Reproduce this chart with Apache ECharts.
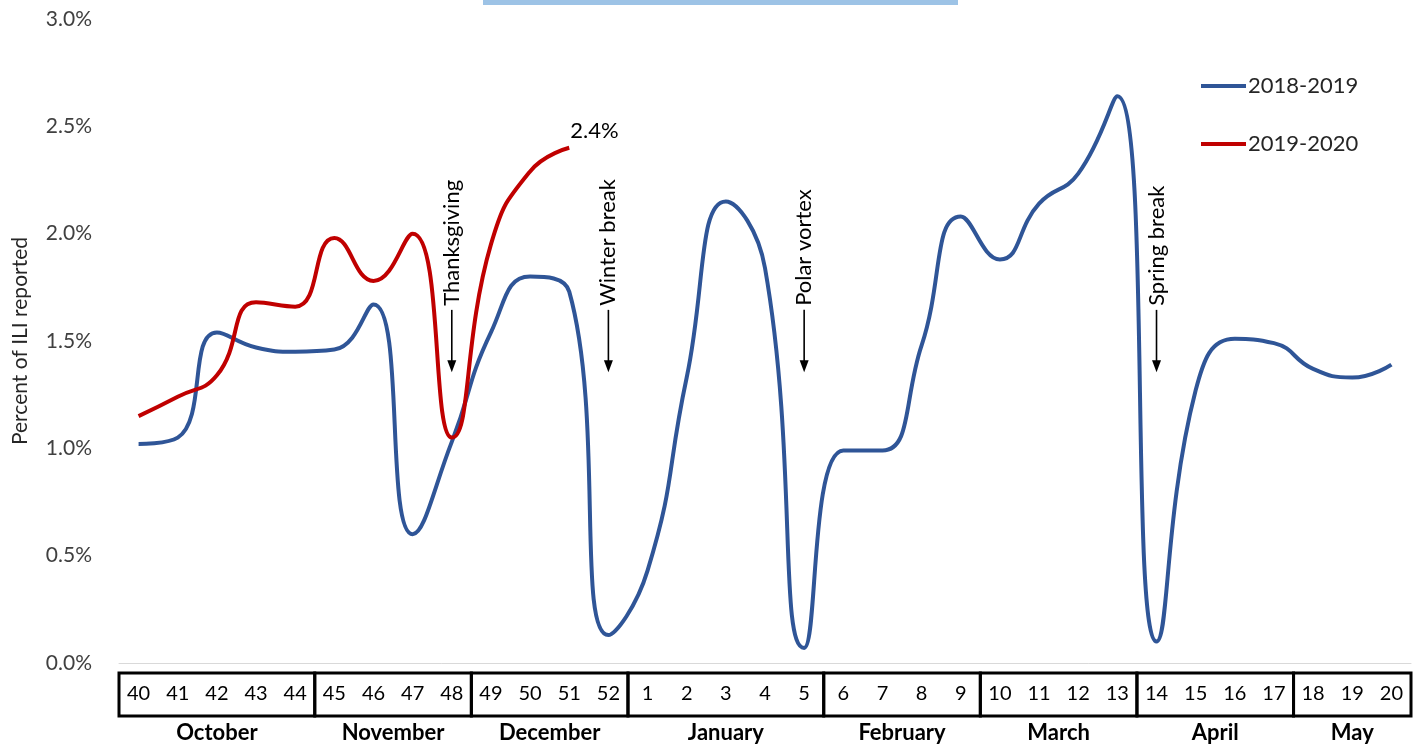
<!DOCTYPE html>
<html>
<head>
<meta charset="utf-8">
<script src="https://cdn.jsdelivr.net/npm/echarts@6/dist/echarts.min.js"></script>
<style>
html,body{margin:0;padding:0;background:#fff;}
#chart{width:1426px;height:746px;}
</style>
</head>
<body>
<div id="chart"></div>
<script>
// ---- data ----
const weeks = ['40','41','42','43','44','45','46','47','48','49','50','51','52',
  '1','2','3','4','5','6','7','8','9','10','11','12','13','14','15','16','17','18','19','20'];
const ili2018_2019 = [1.02,1.05,1.54,1.47,1.45,1.46,1.67,0.60,1.03,1.54,1.80,1.73,0.13,
  0.43,1.33,2.15,1.84,0.07,0.99,0.99,1.48,2.08,1.88,2.14,2.28,2.64,0.10,1.27,1.51,1.49,1.37,1.33,1.39];
const ili2019_2020 = [1.15,1.24,1.34,1.68,1.66,1.98,1.78,2.00,1.05,1.95,2.29,2.40];
const seriesNames = ['2018-2019','2019-2020'];
const months = ['October','November','December','January','February','March','April','May'];
const monthWeekCounts = [5,4,4,5,4,4,4,3];
const eventWeeks = ['48','52','5','14'];
const eventNames = ['Thanksgiving','Winter break','Polar vortex','Spring break'];
const yAxisTitle = 'Percent of ILI reported';

// ---- build ----
const FONT = 'Lato, "Open Sans", sans-serif';
const monthData = [];
let start = 0;
monthWeekCounts.forEach((n, i) => {
  monthData.push({ value: [start, start + n - 1], name: months[i] });
  start += n;
});
const eventData = eventWeeks.map((w, i) => ({ value: [weeks.indexOf(w)], name: eventNames[i] }));

const chart = echarts.init(document.getElementById('chart'), null, { renderer: 'canvas' });
const option = {
  backgroundColor: '#fff',
  animation: false,
  textStyle: { fontFamily: FONT },
  grid: { left: 119, right: 15, top: 19, bottom: 83, containLabel: false },
  legend: {
    orient: 'vertical', left: 1196, top: 70,
    itemWidth: 45, itemHeight: 4, itemGap: 36,
    icon: 'rect',
    data: seriesNames,
    textStyle: { fontFamily: FONT, fontSize: 22, color: '#262626', padding: [0, 0, 0, -3] }
  },
  xAxis: {
    type: 'category', data: weeks, boundaryGap: true,
    axisLine: { show: true, lineStyle: { color: '#D9D9D9', width: 1 } },
    axisTick: { show: false },
    axisLabel: { interval: 0, margin: 21, fontSize: 20, color: '#000', fontFamily: FONT },
    splitLine: { show: false }
  },
  yAxis: {
    type: 'value', min: 0, max: 3, interval: 0.5,
    name: yAxisTitle, nameLocation: 'middle', nameGap: 88, nameRotate: 90,
    nameTextStyle: { fontSize: 21, color: '#262626', fontFamily: FONT },
    axisLine: { show: false }, axisTick: { show: false },
    splitLine: { show: false },
    axisLabel: { margin: 27, fontSize: 21, color: '#404040', fontFamily: FONT,
      formatter: v => v.toFixed(1) + '%' }
  },
  graphic: [
    { type: 'rect', left: 483, top: 0, shape: { width: 475, height: 5 }, style: { fill: '#9DC3E6' }, silent: true }
  ],
  series: [
    {
      name: seriesNames[0], type: 'line', data: ili2018_2019, smooth: 0.5,
      showSymbol: false, symbol: 'none',
      lineStyle: { color: '#2F5597', width: 4 }, itemStyle: { color: '#2F5597' }, z: 3
    },
    {
      name: seriesNames[1], type: 'line', data: ili2019_2020, smooth: 0.5,
      showSymbol: false, symbol: 'none',
      lineStyle: { color: '#C00000', width: 4 }, itemStyle: { color: '#C00000' }, z: 4,
      endLabel: { show: true, formatter: p => p.value.toFixed(1) + '%', fontSize: 22,
        color: '#000', fontFamily: FONT, offset: [-4, -17], distance: 5 }
    },
    {
      type: 'custom', name: 'monthTable', data: monthData, encode: { x: [0, 1] },
      clip: false, silent: true, z: 5,
      renderItem: function (params, api) {
        const s = api.coord([api.value(0), 0]);
        const e = api.coord([api.value(1), 0]);
        const band = api.size([1, 0])[0];
        const x0 = s[0] - band / 2, x1 = e[0] + band / 2;
        const y0 = s[1] + 10, h = 43;
        return {
          type: 'group', children: [
            { type: 'rect', shape: { x: x0, y: y0, width: x1 - x0, height: h },
              style: { fill: 'none', stroke: '#000', lineWidth: 3 } },
            { type: 'text', x: (x0 + x1) / 2, y: y0 + h + 17,
              style: { text: months[params.dataIndex], fontFamily: FONT, fontSize: 22,
                fontWeight: 'bold', fill: '#000', align: 'center', verticalAlign: 'middle' } }
          ]
        };
      }
    },
    {
      type: 'custom', name: 'events', data: eventData, encode: { x: 0 },
      clip: false, silent: true, z: 6,
      renderItem: function (params, api) {
        const idx = api.value(0);
        const tip = api.coord([idx, 1.355]);
        const top = api.coord([idx, 1.645]);
        const x = tip[0];
        return {
          type: 'group', children: [
            { type: 'line', shape: { x1: x, y1: top[1], x2: x, y2: tip[1] - 10 },
              style: { stroke: '#000', lineWidth: 1.6 } },
            { type: 'polygon', shape: { points: [[x - 4.5, tip[1] - 12], [x + 4.5, tip[1] - 12], [x, tip[1]]] },
              style: { fill: '#000' } },
            { type: 'text', x: x, y: top[1] - 4, rotation: Math.PI / 2,
              style: { text: eventNames[params.dataIndex], fontFamily: FONT, fontSize: 22,
                fill: '#000', align: 'left', verticalAlign: 'middle' } }
          ]
        };
      }
    }
  ]
};
chart.setOption(option);
</script>
</body>
</html>
